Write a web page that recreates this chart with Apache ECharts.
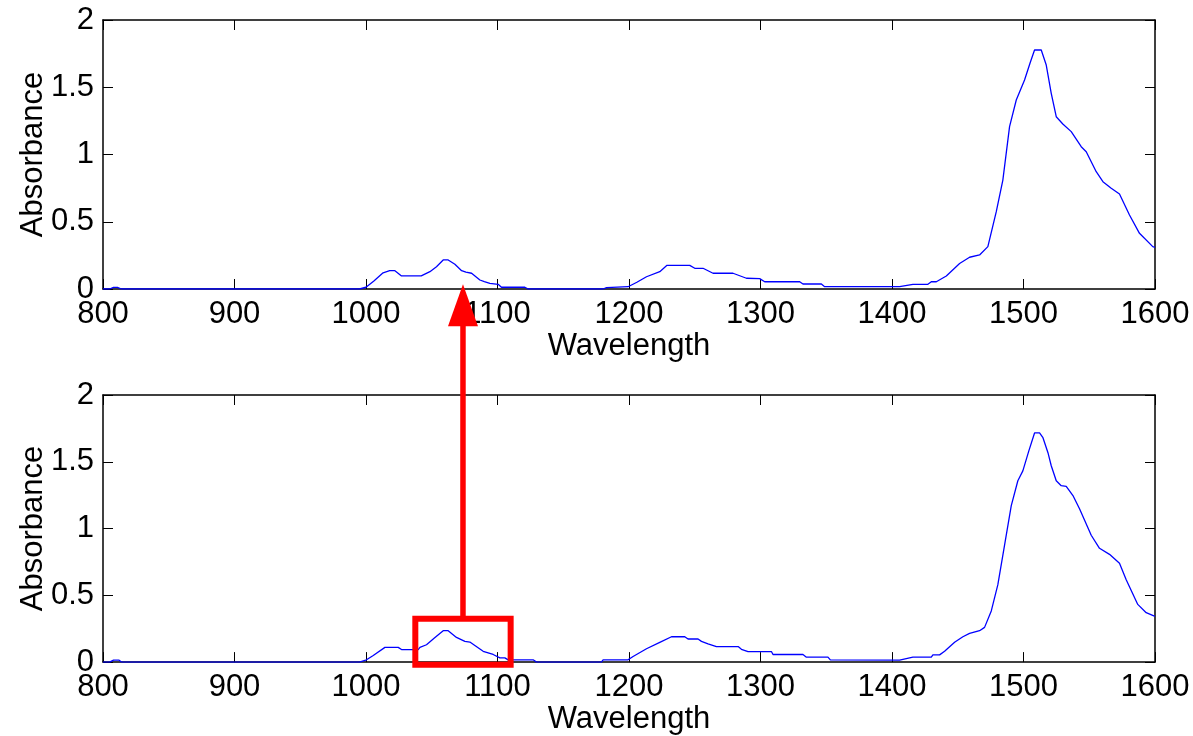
<!DOCTYPE html>
<html>
<head>
<meta charset="utf-8">
<script src="https://cdn.jsdelivr.net/npm/echarts@6/dist/echarts.min.js"></script>
<style>
  html, body { margin: 0; padding: 0; background: #fff; }
  #chart { width: 1193px; height: 736px; }
</style>
</head>
<body>
<div id="chart"></div>
<script>
// Spectrum before correction (upper panel): wavelength (nm) and absorbance
const topWavelength = [
  800, 805, 808, 811, 814, 990, 995, 1000, 1006, 1013, 1018, 1022, 1027, 1042, 1048.6,
  1053.6, 1058.7, 1062.5, 1067.6, 1072.7, 1076, 1080.3, 1086.6, 1090, 1094.2, 1100.5,
  1103, 1120.8, 1123.3, 1180.3, 1182.9, 1199.3, 1206, 1213.3, 1223.4, 1228.9, 1246.2,
  1250, 1256.3, 1263.9, 1279.1, 1289.3, 1299.4, 1303.2, 1329.8, 1332.3, 1346.3, 1348.8,
  1405.8, 1415.9, 1427.3, 1429.9, 1433.7, 1441.3, 1451.4, 1459, 1466.6, 1472.9, 1479.3,
  1484.3, 1489.4, 1494.5, 1500.8, 1505, 1508.4, 1513.5, 1517.3, 1521.1, 1524.9, 1529.9,
  1536.3, 1543.9, 1547.7, 1555.3, 1560.4, 1566.7, 1573, 1580.6, 1588.2, 1598.3, 1600
];
const topAbsorbance = [
  0, 0, 0.012, 0.012, 0, 0, 0, 0.013, 0.06, 0.12, 0.136, 0.136, 0.097, 0.097, 0.129,
  0.166, 0.216, 0.216, 0.184, 0.136, 0.125, 0.117, 0.067, 0.055, 0.042, 0.035,
  0.013, 0.013, 0, 0, 0.01, 0.017, 0.05, 0.091, 0.129, 0.176, 0.176,
  0.154, 0.154, 0.117, 0.117, 0.08, 0.077, 0.054, 0.054, 0.037, 0.037, 0.017,
  0.017, 0.035, 0.035, 0.054, 0.054, 0.097, 0.19, 0.236, 0.253, 0.315, 0.575,
  0.81, 1.207, 1.405, 1.554, 1.68, 1.777, 1.777, 1.665, 1.455, 1.281, 1.227,
  1.17, 1.058, 1.021, 0.872, 0.798, 0.749, 0.706, 0.55, 0.414, 0.315, 0.31
];

// Spectrum after correction (lower panel)
const bottomWavelength = [
  800, 805, 808, 812, 814, 995, 1000.4, 1005.5, 1014.4, 1024.5, 1027, 1039.7, 1041, 1046,
  1052, 1058.7, 1062.5, 1068.8, 1075.2, 1079, 1082.8, 1089.1, 1096.7, 1101.8, 1105.6,
  1108.1, 1127.1, 1129.7, 1179, 1180.3, 1199.3, 1203.1, 1213.3, 1223.4, 1232.3, 1242.4,
  1244.9, 1252.5, 1255.1, 1260.1, 1266.5, 1283, 1285.5, 1290.5, 1308.3, 1309.5, 1332.3,
  1334.9, 1351.3, 1353.1, 1405.8, 1415.9, 1429.9, 1431.1, 1436.2, 1440, 1447.6, 1453.9,
  1459, 1466.6, 1470.4, 1475.5, 1480.5, 1485.6, 1490.7, 1495.7, 1499.5, 1504, 1508.4,
  1512.2, 1514.8, 1518.6, 1521.1, 1524.9, 1528.7, 1532.5, 1537.6, 1542.6, 1551.5, 1557.8,
  1565.4, 1573, 1578.1, 1586.9, 1593.3, 1599.1, 1600
];
const bottomAbsorbance = [
  0, 0, 0.015, 0.015, 0, 0, 0.017, 0.05, 0.11, 0.11, 0.094, 0.094, 0.11, 0.13,
  0.18, 0.235, 0.235, 0.185, 0.155, 0.15, 0.124, 0.081, 0.057, 0.032, 0.032,
  0.017, 0.017, 0, 0, 0.017, 0.017, 0.042, 0.1, 0.148, 0.19, 0.19,
  0.173, 0.173, 0.155, 0.136, 0.116, 0.116, 0.096, 0.079, 0.079, 0.057, 0.057,
  0.037, 0.037, 0.017, 0.015, 0.037, 0.037, 0.054, 0.054, 0.081, 0.148, 0.19,
  0.215, 0.235, 0.26, 0.383, 0.58, 0.876, 1.172, 1.358, 1.432, 1.58, 1.716,
  1.716, 1.68, 1.568, 1.47, 1.358, 1.321, 1.316, 1.247, 1.148, 0.95, 0.852,
  0.807, 0.74, 0.617, 0.432, 0.37, 0.346, 0.345
];

// Axis ranges and titles
const xRange = [800, 1600];
const xStep = 100;
const yRange = [0, 2];
const yStep = 0.5;
const xTitle = 'Wavelength';
const yTitle = 'Absorbance';

// Highlighted band in the lower panel and the arrow pointing to the upper panel
const boxWavelength = [1037.5, 1110];
const boxAbsorbance = [-0.02, 0.325];
const arrowTipAbsorbance = 0.035;

const FONT = '"Liberation Sans", Arial, sans-serif';
const BLACK = '#000';
const plainNumber = v => String(v);

function pairs(xs, ys) {
  return xs.map((x, i) => [x, ys[i]]);
}

function mainX(gridIndex) {
  return {
    type: 'value', gridIndex, position: 'bottom',
    min: xRange[0], max: xRange[1], interval: xStep,
    name: xTitle, nameLocation: 'middle', nameGap: 41,
    nameTextStyle: { fontFamily: FONT, fontSize: 31, color: BLACK },
    axisLine: { show: true, onZero: false, lineStyle: { color: BLACK, width: 1.5 } },
    axisTick: { show: true, inside: true, length: 10, lineStyle: { color: BLACK, width: 1 } },
    axisLabel: { show: true, margin: 10, fontFamily: FONT, fontSize: 31, color: BLACK,
                 formatter: plainNumber,
                 showMinLabel: true, showMaxLabel: true, hideOverlap: false, interval: 0 },
    splitLine: { show: false }
  };
}
function mirrorX(gridIndex) {
  return {
    type: 'value', gridIndex, position: 'top',
    min: xRange[0], max: xRange[1], interval: xStep,
    axisLine: { show: true, onZero: false, lineStyle: { color: BLACK, width: 1.5 } },
    axisTick: { show: true, inside: true, length: 10, lineStyle: { color: BLACK, width: 1 } },
    axisLabel: { show: false },
    splitLine: { show: false }
  };
}
function mainY(gridIndex) {
  return {
    type: 'value', gridIndex, position: 'left',
    min: yRange[0], max: yRange[1], interval: yStep,
    name: yTitle, nameLocation: 'middle', nameGap: 54, nameMoveOverlap: false,
    nameTextStyle: { fontFamily: FONT, fontSize: 31, color: BLACK },
    axisLine: { show: true, onZero: false, lineStyle: { color: BLACK, width: 1.5 } },
    axisTick: { show: true, inside: true, length: 10, lineStyle: { color: BLACK, width: 1 } },
    axisLabel: { show: true, margin: 9, fontFamily: FONT, fontSize: 31, color: BLACK,
                 formatter: plainNumber,
                 showMinLabel: true, showMaxLabel: true },
    splitLine: { show: false }
  };
}
function mirrorY(gridIndex) {
  return {
    type: 'value', gridIndex, position: 'right',
    min: yRange[0], max: yRange[1], interval: yStep,
    axisLine: { show: true, onZero: false, lineStyle: { color: BLACK, width: 1.5 } },
    axisTick: { show: true, inside: true, length: 10, lineStyle: { color: BLACK, width: 1 } },
    axisLabel: { show: false },
    splitLine: { show: false }
  };
}

const chart = echarts.init(document.getElementById('chart'), null, { renderer: 'canvas' });

chart.setOption({
  animation: false,
  backgroundColor: '#fff',
  grid: [
    { left: 103, width: 1052, top: 20, height: 269 },
    { left: 103, width: 1052, top: 395, height: 270 }
  ],
  xAxis: [mainX(0), mirrorX(0), mainX(1), mirrorX(1)],
  yAxis: [mainY(0), mirrorY(0), mainY(1), mirrorY(1)],
  series: [
    {
      type: 'line', xAxisIndex: 0, yAxisIndex: 0,
      data: pairs(topWavelength, topAbsorbance),
      showSymbol: false, symbol: 'none',
      lineStyle: { color: '#0000ff', width: 1.3 }
    },
    {
      type: 'line', xAxisIndex: 2, yAxisIndex: 2,
      data: pairs(bottomWavelength, bottomAbsorbance),
      showSymbol: false, symbol: 'none',
      lineStyle: { color: '#0000ff', width: 1.3 }
    }
  ]
});

// Red annotation: box around the band in the lower panel and an arrow up to the upper panel
const boxA = chart.convertToPixel({ xAxisIndex: 2, yAxisIndex: 2 }, [boxWavelength[0], boxAbsorbance[1]]);
const boxB = chart.convertToPixel({ xAxisIndex: 2, yAxisIndex: 2 }, [boxWavelength[1], boxAbsorbance[0]]);
const cx = (boxA[0] + boxB[0]) / 2;
const tip = chart.convertToPixel({ xAxisIndex: 0, yAxisIndex: 0 }, [xRange[0], arrowTipAbsorbance]);
const tipY = tip[1];
const headLen = 42, headHalf = 15;
const RED = '#ff0000';

chart.setOption({
  graphic: [
    {
      type: 'rect', z: 100,
      shape: { x: boxA[0], y: boxA[1], width: boxB[0] - boxA[0], height: boxB[1] - boxA[1] },
      style: { fill: 'none', stroke: RED, lineWidth: 6 }
    },
    {
      type: 'line', z: 100,
      shape: { x1: cx, y1: boxA[1], x2: cx, y2: tipY + headLen - 2 },
      style: { stroke: RED, lineWidth: 5.5 }
    },
    {
      type: 'polygon', z: 101,
      shape: { points: [[cx - headHalf, tipY + headLen], [cx + headHalf, tipY + headLen], [cx, tipY]] },
      style: { fill: RED }
    }
  ]
});
</script>
</body>
</html>
